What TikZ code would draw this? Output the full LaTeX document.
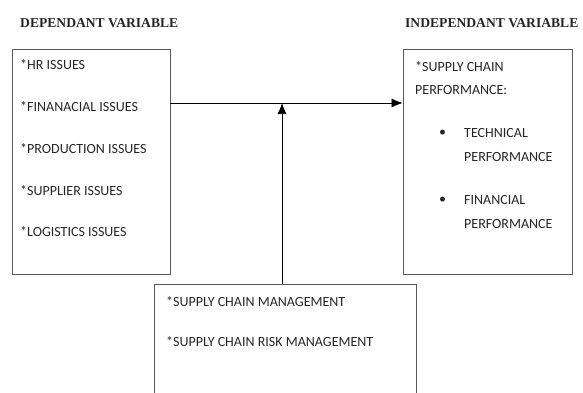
\documentclass[tikz,border=0pt]{standalone}
\usepackage{fontspec}
\setmainfont{Carlito}
\newfontfamily\titlefont{Liberation Serif}
\usetikzlibrary{arrows.meta}

\tikzset{
  varbox/.style={draw=black!65,line width=0.8pt,inner sep=0pt},
  item/.style={anchor=west,inner sep=0pt,text=black!85,font=\fontsize{14}{16}\selectfont},
  head/.style={anchor=west,inner sep=0pt,text=black!85,font=\titlefont\bfseries\fontsize{13.6}{15}\selectfont},
  link/.style={line width=0.7pt,-{Latex[length=11pt,width=9pt]}}
}

\begin{document}
\begin{tikzpicture}[x=1pt,y=-1pt]
\clip (0,0) rectangle (583,392);
\useasboundingbox (0,0) rectangle (583,392);

% headings
\node[head] (dephead) at (20,23) {DEPENDANT VARIABLE};
\node[head] (indephead) at (405,23) {INDEPENDANT VARIABLE};

% boxes
\node[varbox,minimum width=158pt,minimum height=225pt] (dep) at (91,161.5) {};
\node[varbox,minimum width=169pt,minimum height=225pt] (indep) at (487.5,161.5) {};
\node[varbox,minimum width=262pt,minimum height=130pt] (mgmt) at (285,349) {};

% left box items
\foreach \i/\t in {0/HR ISSUES,1/FINANACIAL ISSUES,2/PRODUCTION ISSUES,3/SUPPLIER ISSUES,4/LOGISTICS ISSUES}
\node[item] (dep\i) at (20,65+\i*41.75) {*\t};

% right box items
\node[item] (perf1) at (415,67) {*SUPPLY CHAIN};
\node[item] (perf2) at (415,90) {PERFORMANCE:};
\foreach \i/\t in {0/TECHNICAL,1/FINANCIAL}{
\node[item] (bul\i) at (439,133+\i*67) {\textbullet};
\node[item] (perfa\i) at (464,133+\i*67) {\t};
\node[item] (perfb\i) at (464,157+\i*67) {PERFORMANCE};
}

% bottom box items
\node[item] (mgmt1) at (166,302) {*SUPPLY CHAIN MANAGEMENT};
\node[item] (mgmt2) at (166,342) {*SUPPLY CHAIN RISK MANAGEMENT};

% connectors
\coordinate (join) at (282,103);
\draw[link] (dep.east |- join) -- (indep.west |- join);
\draw[link] (mgmt.north -| join) -- (join);
\end{tikzpicture}
\end{document}
